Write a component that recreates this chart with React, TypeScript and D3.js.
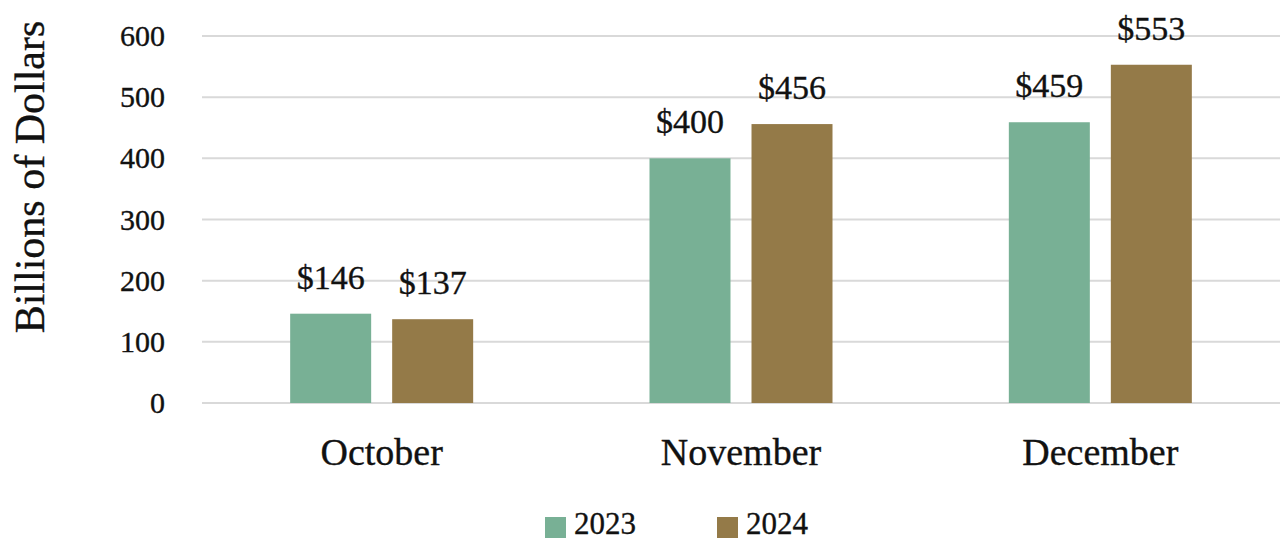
import React from "react";
import * as d3 from "d3";

const categories = ["October", "November", "December"];
const seriesNames = ["2023", "2024"];
const values2023 = [146, 400, 459];
const values2024 = [137, 456, 553];
const yTicks = [0, 100, 200, 300, 400, 500, 600];
const colors = ["#78b095", "#947a48"];

const W = 1280;
const H = 541;
const FONT = "'Liberation Serif', 'DejaVu Serif', serif";
const INK = "#111111";

export default function App() {
  React.useEffect(() => {
    document.body.style.margin = "0";
  }, []);

  const left = 202;
  const right = 1280;
  const x = d3.scaleBand<string>().domain(categories).range([left, right]).paddingInner(0).paddingOuter(0);
  const y = d3.scaleLinear().domain([0, 600]).range([403, 36]);
  const groupW = 183;
  const inner = d3
    .scaleBand<string>()
    .domain(seriesNames)
    .range([0, groupW])
    .paddingInner(0.206)
    .paddingOuter(0);

  const series = [values2023, values2024];
  const textStroke = { stroke: INK, strokeWidth: 0.35 };

  return (
    <svg width={W} height={H} style={{ display: "block" }} fontFamily={FONT}>
      <rect width={W} height={H} fill="#ffffff" />
      {yTicks.map((t) => (
        <g key={t}>
          <line x1={left} x2={right} y1={y(t)} y2={y(t)} stroke="#d9d9d9" strokeWidth={2} />
          <text x={165} y={y(t) + 10} textAnchor="end" fontSize={30} fill={INK} {...textStroke}>
            {t}
          </text>
        </g>
      ))}
      <text
        transform={`translate(44,177) rotate(-90)`}
        textAnchor="middle"
        fontSize={42}
        fill={INK}
        {...textStroke}
      >
        Billions of Dollars
      </text>
      {categories.map((c, i) => {
        const cx = (x(c) as number) + x.bandwidth() / 2;
        const gx = cx - groupW / 2;
        return (
          <g key={c}>
            {seriesNames.map((s, j) => {
              const v = series[j][i];
              const bx = gx + (inner(s) as number);
              const bw = inner.bandwidth();
              return (
                <g key={s}>
                  <rect x={bx} y={y(v)} width={bw} height={y(0) - y(v)} fill={colors[j]} />
                  <text
                    x={bx + bw / 2}
                    y={y(v) - 25}
                    textAnchor="middle"
                    fontSize={34}
                    fill={INK}
                    {...textStroke}
                  >
                    {"$" + v}
                  </text>
                </g>
              );
            })}
            <text x={cx} y={465} textAnchor="middle" fontSize={38} fill={INK} {...textStroke}>
              {c}
            </text>
          </g>
        );
      })}
      {seriesNames.map((s, j) => {
        const lx = [545, 717][j];
        return (
          <g key={s}>
            <rect x={lx} y={517} width={21} height={21} fill={colors[j]} />
            <text x={lx + 29} y={534} fontSize={31} fill={INK} {...textStroke}>
              {s}
            </text>
          </g>
        );
      })}
    </svg>
  );
}
